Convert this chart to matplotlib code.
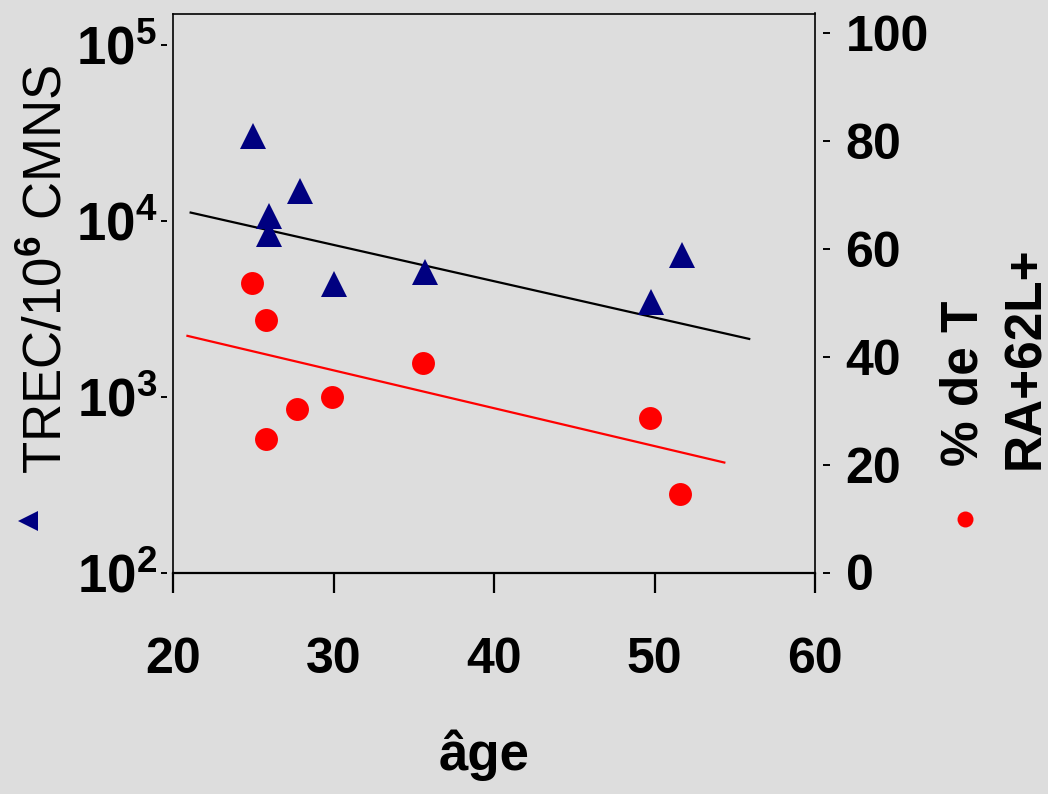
import matplotlib
matplotlib.use("Agg")
import matplotlib.pyplot as plt
from matplotlib.lines import Line2D
from matplotlib.ticker import FixedLocator, NullLocator

plt.rcParams["font.family"] = ["Liberation Sans", "DejaVu Sans"]
plt.rcParams["font.weight"] = "bold"
plt.rcParams["mathtext.fontset"] = "custom"
plt.rcParams["mathtext.rm"] = "Liberation Sans"
plt.rcParams["mathtext.bf"] = "Liberation Sans:bold"

# TREC / 10^6 CMNS (left, log axis) -- triangles
trec_age = [25.0, 27.9, 26.0, 26.0, 30.0, 35.7, 49.8, 51.7]
trec_val = [30300, 14700, 10600, 8450, 4380, 5140, 3470, 6410]

# % de T RA+62L+ (right axis) -- circles
pct_age = [24.9, 25.8, 25.8, 27.7, 29.9, 35.6, 49.7, 51.6]
pct_val = [53.7, 46.8, 24.8, 30.3, 32.5, 38.8, 28.6, 14.5]

# trend lines (end points)
trec_fit_age = [21.1, 55.9]
trec_fit_val = [11140, 2130]
pct_fit_age = [20.9, 54.35]
pct_fit_val = [43.9, 20.4]

x_ticks = [20, 30, 40, 50, 60]
left_ticks = [1e2, 1e3, 1e4, 1e5]
left_labels = [r"$\mathbf{10^{2}}$", r"$\mathbf{10^{3}}$",
               r"$\mathbf{10^{4}}$", r"$\mathbf{10^{5}}$"]
right_ticks = [0, 20, 40, 60, 80, 100]

BG = "#dddddd"
NAVY = "#000080"
RED = "#ff0000"
W, H = 1048, 794

fig = plt.figure(figsize=(W / 100, H / 100), dpi=100, facecolor=BG)
ax = fig.add_axes([173 / W, 1 - 572.5 / H, (815 - 173) / W, (572.5 - 13.5) / H])
ax.set_facecolor(BG)
ax2 = ax.twinx()

# left log axis
ax.set_yscale("log")
ax.set_xlim(20, 60)
ax.set_ylim(1e2, 10 ** 5.179)
ax.yaxis.set_major_locator(FixedLocator(left_ticks))
ax.yaxis.set_minor_locator(NullLocator())
ax.set_yticklabels(left_labels)
ax.spines["left"].set_position(("outward", 4))
ax.spines["left"].set_color("none")
ax.plot([0, 0], [0, 1], transform=ax.transAxes, color="k", lw=1.2,
        clip_on=False)
for s in ("top", "right"):
    ax.spines[s].set_linewidth(1.2)
ax.spines["bottom"].set_linewidth(1.6)
ax.tick_params(axis="y", which="major", direction="out", length=4.5,
               width=1.4, pad=3, labelsize=38)
ax.set_xticks(x_ticks)
ax.set_xticklabels([str(t) for t in x_ticks])
ax.tick_params(axis="x", direction="out", length=14.5, width=1.6,
               pad=32, labelsize=36)

# right linear axis
ax2.set_ylim(0, 103.7)
ax2.set_yticks(right_ticks)
ax2.set_yticklabels([str(t) for t in right_ticks])
for s in ("left", "top", "bottom"):
    ax2.spines[s].set_visible(False)
ax2.spines["right"].set_position(("outward", 6))
ax2.spines["right"].set_color("none")
ax2.tick_params(axis="y", direction="out", length=5, width=1.4, pad=11,
                labelsize=36)

# data
ax.plot(trec_fit_age, trec_fit_val, color="black", lw=1.6, zorder=2)
ax2.plot(pct_fit_age, pct_fit_val, color=RED, lw=1.6, zorder=2)
ax.plot(trec_age, trec_val, linestyle="none", marker="^", ms=19, mew=0,
        color=NAVY, zorder=3)
ax2.plot(pct_age, pct_val, linestyle="none", marker="o", ms=16.5, mew=0,
         color=RED, zorder=3)
ax.set_zorder(ax2.get_zorder() + 1)
ax.patch.set_visible(False)
ax2.patch.set_visible(False)

# labels
fig.text(484 / W, 1 - 770 / H, "âge", fontsize=38, fontweight="bold",
         ha="center", va="baseline")
fig.text(62 / W, 1 - 270 / H, "TREC/10$^{6}$ CMNS", fontsize=38,
         fontweight="normal", rotation=90, rotation_mode="anchor",
         ha="center", va="baseline")
fig.text(978 / W, 1 - 466 / H, "% de T", fontsize=37, fontweight="bold",
         rotation=90, rotation_mode="anchor", ha="left", va="baseline")
fig.text(1039 / W, 1 - 469 / H, "RA+62L+", fontsize=37, fontweight="bold",
         rotation=90, rotation_mode="anchor", ha="left", va="baseline")

# legend symbols next to axis titles
fig.add_artist(Line2D([28 / W], [1 - 521 / H], marker="<", ms=15, mew=0,
                      color=NAVY, linestyle="none"))
fig.add_artist(Line2D([965 / W], [1 - 519 / H], marker="o", ms=11.5, mew=0,
                      color=RED, linestyle="none"))

fig.savefig("out.png", dpi=100, facecolor=BG)
